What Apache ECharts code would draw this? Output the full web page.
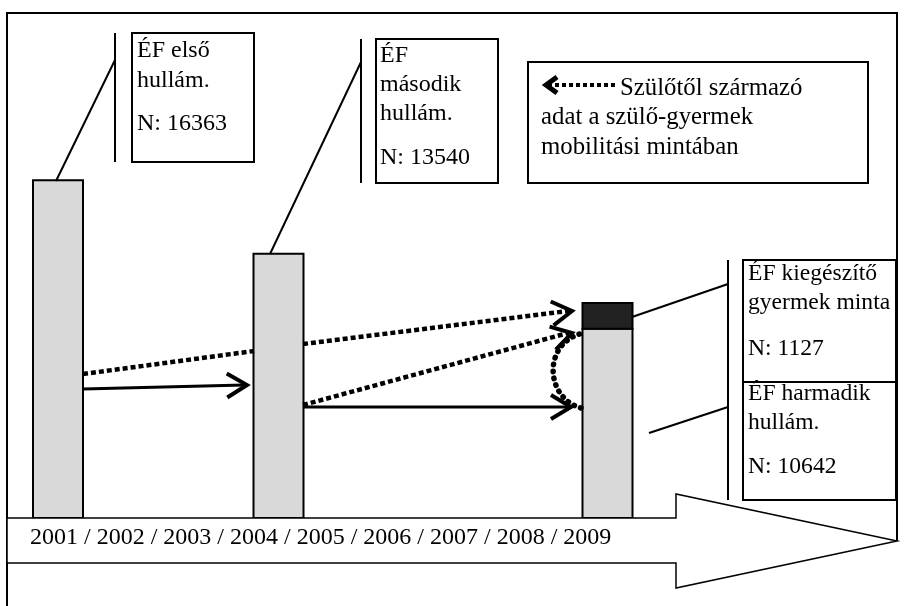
<!DOCTYPE html>
<html><head><meta charset="utf-8">
<script src="https://cdn.jsdelivr.net/npm/echarts/dist/echarts.min.js"></script>
<style>html,body{margin:0;padding:0;background:#fff}#c{width:904px;height:606px}</style>
</head><body><div id="c"></div>
<script>
// ---- data ----
const waveTitles = [['ÉF első', 'hullám.'], ['ÉF', 'második', 'hullám.'], ['ÉF harmadik', 'hullám.']];
const waveN = [16363, 13540, 10642];
const supplementTitle = ['ÉF kiegészítő', 'gyermek minta'];
const supplementN = 1127;
const barLevel = [16300, 12750, 9130];      // bar heights (axis units)
const supplementLevel = 1250;
const years = ['2001', '2002', '2003', '2004', '2005', '2006', '2007', '2008', '2009'];
const legendLines = ['Szülőtől származó', 'adat a szülő-gyermek', 'mobilitási mintában'];

// ---- layout (positions / styles) ----
const FAMILY = '"Liberation Serif", "Times New Roman", serif';
const FONT = '24px ' + FAMILY;
const FONT_LEGEND = '24.8px ' + FAMILY;
const FONT_RIGHT = '23.6px ' + FAMILY;
const layout = {
  barX: [58, 278.5, 607.5], barW: 50,
  barFill: ['#d9d9d9', '#d9d9d9', '#d9d9d9'], supplementFill: '#222222',
  waveBoxes: [
    {rect: [132, 33, 254, 162], vline: [115, 33, 162], leader: [[115, 60], [56, 181]], tx: 137, ty: [51, 81], ny: 124},
    {rect: [376, 39, 498, 183], vline: [361, 39, 183], leader: [[361, 62], [270, 254]], tx: 380, ty: [56, 85, 114], ny: 158}
  ],
  rightBox: {x0: 743, x1: 896, y0: 260, ymid: 382, y1: 500, vline: 728,
    leaderTop: [[728, 284], [632, 317]], leaderBot: [[728, 407], [649, 433]],
    tx: 748, topTy: [274, 303], topNy: 349, botTy: [394, 423], botNy: 467},
  legend: {rect: [528, 62, 868, 183], arrow: [[615, 85], [546, 85]], tx: [620, 541, 541], ty: [88, 117, 147]},
  timeline: [[7, 518], [676, 518], [676, 494], [897, 541], [676, 588], [676, 563], [7, 563]],
  yearsX: 30, yearsY: 538,
  frame: [[7, 606], [7, 13], [897, 13], [897, 541]]
};

const chart = echarts.init(document.getElementById('c'), null, {renderer: 'canvas'});

function barItem(params, api) {
  const idx = api.value(0), val = api.value(1), base = api.value(2), kind = api.value(3);
  const xc = layout.barX[idx], w = layout.barW;
  const a = api.coord([xc - w / 2, base + val]);
  const b = api.coord([xc + w / 2, base]);
  return {
    type: 'rect',
    shape: {x: a[0], y: a[1], width: b[0] - a[0], height: b[1] - a[1]},
    style: {fill: kind ? layout.supplementFill : layout.barFill[idx], stroke: '#000', lineWidth: 2}
  };
}

function annotate(params, api) {
  const c = p => api.coord(p);
  const kids = [];
  const line = (pts, extra) => kids.push({type: 'polyline', shape: {points: pts.map(c)},
    style: Object.assign({stroke: '#000', lineWidth: 2, fill: 'none'}, extra || {})});
  const rect = (r, extra) => { const a = c([r[0], r[1]]), b = c([r[2], r[3]]);
    kids.push({type: 'rect', shape: {x: a[0], y: a[1], width: b[0] - a[0], height: b[1] - a[1]},
      style: Object.assign({stroke: '#000', lineWidth: 2, fill: '#fff'}, extra || {})}); };
  const text = (s, x, y, font) => { const p = c([x, y]);
    kids.push({type: 'text', style: {text: s, x: p[0], y: p[1], font: font || FONT, fill: '#000', align: 'left', verticalAlign: 'middle'}}); };
  const head = (from, tip, back, half, w) => { const a = c(from), b = c(tip);
    const dx = b[0] - a[0], dy = b[1] - a[1], len = Math.hypot(dx, dy), ux = dx / len, uy = dy / len, px = -uy, py = ux;
    kids.push({type: 'polyline', shape: {points: [[b[0] - ux * back + px * half, b[1] - uy * back + py * half], [b[0], b[1]],
      [b[0] - ux * back - px * half, b[1] - uy * back - py * half]]},
      style: {stroke: '#000', lineWidth: w, fill: 'none', lineJoin: 'miter', lineCap: 'butt'}}); };
  const dotted = {lineWidth: 4.5, lineDash: [5, 3], lineCap: 'butt'};

  // frame
  line(layout.frame, {lineWidth: 2});

  // wave 1 & 2 boxes
  layout.waveBoxes.forEach((bx, i) => {
    line([[bx.vline[0], bx.vline[1]], [bx.vline[0], bx.vline[2]]]);
    line(bx.leader);
    rect(bx.rect);
    waveTitles[i].forEach((t, k) => text(t, bx.tx, bx.ty[k]));
    text('N: ' + waveN[i], bx.tx, bx.ny);
  });

  // legend
  const lg = layout.legend;
  rect(lg.rect);
  line(lg.arrow, {lineWidth: 4, lineDash: [4, 3]});
  head(lg.arrow[0], lg.arrow[1], 11, 8, 5);
  legendLines.forEach((t, k) => text(t, lg.tx[k], lg.ty[k], FONT_LEGEND));

  // right boxes
  const rb = layout.rightBox;
  line([[rb.vline, rb.y0], [rb.vline, rb.y1]]);
  line(rb.leaderTop);
  line(rb.leaderBot);
  rect([rb.x0, rb.y0, rb.x1, rb.y1]);
  line([[rb.x0, rb.ymid], [rb.x1, rb.ymid]]);
  supplementTitle.forEach((t, k) => text(t, rb.tx, rb.topTy[k], FONT_RIGHT));
  text('N: ' + supplementN, rb.tx, rb.topNy, FONT_RIGHT);
  waveTitles[2].forEach((t, k) => text(t, rb.tx, rb.botTy[k], FONT_RIGHT));
  text('N: ' + waveN[2], rb.tx, rb.botNy, FONT_RIGHT);

  // flow arrows
  line([[83, 374], [254, 351]], dotted);
  line([[303, 344], [568, 311]], dotted);
  head([303, 344], [572, 311], 20, 12, 4);
  line([[303, 405], [568, 333]], dotted);
  head([303, 405], [572, 333], 20, 12, 4);
  line([[83, 389], [244, 385]], {lineWidth: 3});
  head([83, 389], [247, 385], 20, 12, 4);
  line([[303, 407], [568, 407]], {lineWidth: 3});
  head([303, 407], [571, 407], 20, 12, 4);
  const s = c([581, 408]), e = c([583, 333]), k1 = c([545, 398]), k2 = c([542, 343]);
  kids.push({type: 'bezierCurve', shape: {x1: s[0], y1: s[1], x2: e[0], y2: e[1], cpx1: k1[0], cpy1: k1[1], cpx2: k2[0], cpy2: k2[1]},
    style: {stroke: '#000', lineWidth: 5.5, lineDash: [0.5, 6.5], lineCap: 'round', fill: 'none'}});

  // timeline
  const tp = layout.timeline.map(c);
  kids.push({type: 'polygon', shape: {points: tp}, style: {fill: '#fff', stroke: '#000', lineWidth: 1.5}});
  text(years.join(' / '), layout.yearsX, layout.yearsY);

  return {type: 'group', children: kids};
}

const barData = waveN.map((n, i) => [i, barLevel[i], 0, 0]);
barData.push([2, supplementLevel, barLevel[2], 1]);

chart.setOption({
  animation: false,
  backgroundColor: '#fff',
  grid: [
    {left: 0, right: 0, top: 0, bottom: 0},
    {left: 0, right: 0, top: 0, bottom: 88}
  ],
  xAxis: [
    {type: 'value', gridIndex: 0, min: 0, max: 904, show: false},
    {type: 'value', gridIndex: 1, min: 0, max: 904, show: false}
  ],
  yAxis: [
    {type: 'value', gridIndex: 0, min: 0, max: 606, inverse: true, show: false},
    {type: 'value', gridIndex: 1, min: 0, max: 25000, show: false}
  ],
  series: [
    {type: 'custom', name: 'minta', xAxisIndex: 1, yAxisIndex: 1, z: 2, renderItem: barItem, data: barData, silent: true},
    {type: 'custom', name: 'ábra', xAxisIndex: 0, yAxisIndex: 0, z: 3, renderItem: annotate, data: [[0, 0]], silent: true}
  ]
});
</script>
</body></html>
